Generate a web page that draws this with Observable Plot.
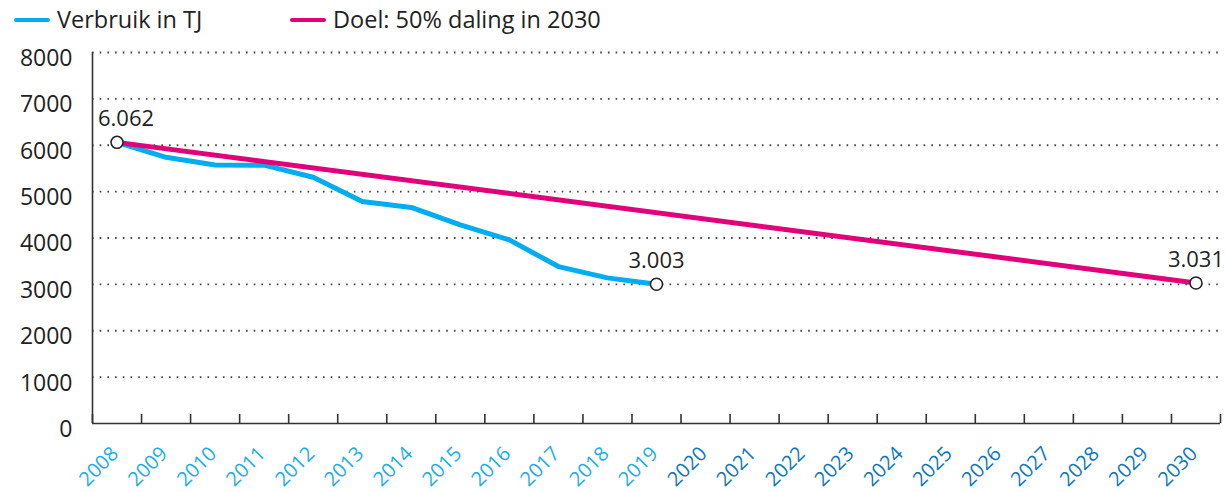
<!DOCTYPE html>
<html>
<head>
<meta charset="utf-8">
<script src="https://cdn.jsdelivr.net/npm/d3@7"></script>
<script src="https://cdn.jsdelivr.net/npm/@observablehq/plot@0.6"></script>
<style>
  html, body { margin: 0; padding: 0; background: #fff; }
  body { width: 1225px; height: 492px; overflow: hidden; font-family: "Open Sans", sans-serif; color: #222; }
  #legend { position: relative; height: 40px; }
  .sw { position: absolute; top: 18px; width: 36px; height: 4px; border-radius: 2px; }
  .lt { position: absolute; top: 5px; font-size: 23.5px; line-height: 28px; color: #222; white-space: nowrap; }
  #chart svg { display: block; }
</style>
</head>
<body>
<div id="legend">
  <div class="sw" style="left:14px;background:#00AEEF"></div>
  <div class="lt" style="left:57px">Verbruik in TJ</div>
  <div class="sw" style="left:290px;background:#E2007A"></div>
  <div class="lt" style="left:333px">Doel: 50% daling in 2030</div>
</div>
<div id="chart"></div>
<script>
// ---- data ----
const xYears = [2008, 2009, 2010, 2011, 2012, 2013, 2014, 2015, 2016, 2017, 2018, 2019,
                2020, 2021, 2022, 2023, 2024, 2025, 2026, 2027, 2028, 2029, 2030];
const verbruikYears = [2008, 2009, 2010, 2011, 2012, 2013, 2014, 2015, 2016, 2017, 2018, 2019];
const verbruik = [6062, 5740, 5575, 5570, 5310, 4785, 4660, 4282, 3960, 3384, 3140, 3003];
const doelYears = [2008, 2030];
const doel = [6062, 3031];
const yTicks = [0, 1000, 2000, 3000, 4000, 5000, 6000, 7000, 8000];
const labelYears = [2008, 2019, 2030];
const labelValues = [6062, 3003, 3031];

// ---- build tables ----
const verbruikData = verbruikYears.map((x, i) => ({x, y: verbruik[i]}));
const doelData = doelYears.map((x, i) => ({x, y: doel[i]}));
const points = labelYears.map((x, i) => ({x, y: labelValues[i]}));
const nl = d3.formatLocale({decimal: ",", thousands: ".", grouping: [3], currency: ["€", ""]});
const fmt = nl.format(",d");
const boundaries = [xYears[0] - 0.5].concat(xYears.map(d => d + 0.5));
const lastMeasured = verbruikYears[verbruikYears.length - 1];

const LIGHT = "#1AAEEC", DARK = "#0B78BE", AXIS = "#333";

const chart = Plot.plot({
  width: 1225,
  height: 452,
  marginTop: 12,
  marginBottom: 69,
  marginLeft: 92,
  marginRight: 5,
  style: {fontFamily: "'Open Sans', sans-serif", background: "#fff", color: "#222", overflow: "visible"},
  x: {type: "linear", domain: [boundaries[0], boundaries[boundaries.length - 1]], label: null},
  y: {domain: [0, 8000], label: null},
  marks: [
    Plot.ruleY(yTicks.filter(d => d > 0), {stroke: "#444", strokeWidth: 1.8, strokeDasharray: "1.6,6.1"}),
    Plot.axisY({ticks: yTicks, tickSize: 0, tickPadding: 20, tickFormat: d => String(d), dy: 6, fontSize: 23, fill: "#222", label: null}),
    Plot.axisX({ticks: xYears.filter(d => d <= lastMeasured), tickSize: 0, tickPadding: 27, tickRotate: -45, dx: -2,
                tickFormat: d => String(d), fontSize: 20, fill: LIGHT, label: null}),
    Plot.axisX({ticks: xYears.filter(d => d > lastMeasured), tickSize: 0, tickPadding: 27, tickRotate: -45, dx: -2,
                tickFormat: d => String(d), fontSize: 20, fill: DARK, label: null}),
    Plot.line(verbruikData, {x: "x", y: "y", stroke: "#00AEEF", strokeWidth: 5}),
    Plot.line(doelData, {x: "x", y: "y", stroke: "#E2007A", strokeWidth: 5}),
    Plot.ruleX([boundaries[0]], {y1: 0, y2: 8000, stroke: AXIS, strokeWidth: 1.6}),
    Plot.ruleY([0], {stroke: AXIS, strokeWidth: 1.6}),
    Plot.ruleX(boundaries, {y1: 0, y2: 0, insetTop: -9, stroke: AXIS, strokeWidth: 1.6}),
    Plot.dot(points, {x: "x", y: "y", r: 6, fill: "white", stroke: "#222", strokeWidth: 1.5}),
    Plot.text(points.slice(0, 1), {x: "x", y: "y", text: d => fmt(d.y), dx: 9, dy: -23, fontSize: 22, fill: "#222"}),
    Plot.text(points.slice(1), {x: "x", y: "y", text: d => fmt(d.y), dx: 0, dy: -23, fontSize: 22, fill: "#222"})
  ]
});
document.getElementById("chart").appendChild(chart);
</script>
</body>
</html>
